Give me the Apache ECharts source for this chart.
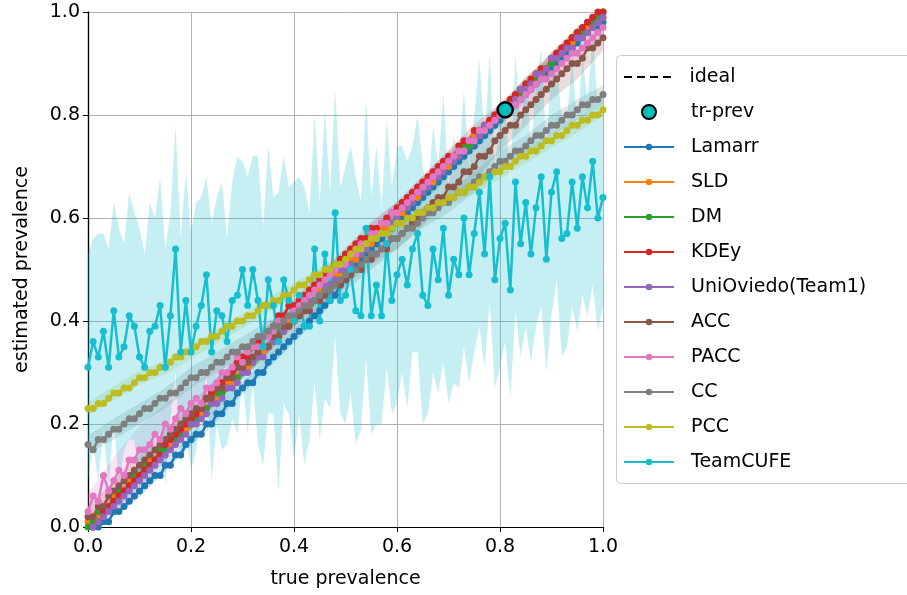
<!DOCTYPE html>
<html><head><meta charset="utf-8">
<script src="https://cdn.jsdelivr.net/npm/echarts@6/dist/echarts.min.js"></script>
<style>html,body{margin:0;padding:0;background:#fff}#c{width:907px;height:595px}</style>
</head><body><div id="c"></div><script>
// true prevalence grid
const xs = [0.00,0.01,0.02,0.03,0.04,0.05,0.06,0.07,0.08,0.09,0.10,
0.11,0.12,0.13,0.14,0.15,0.16,0.17,0.18,0.19,0.20,
0.21,0.22,0.23,0.24,0.25,0.26,0.27,0.28,0.29,0.30,
0.31,0.32,0.33,0.34,0.35,0.36,0.37,0.38,0.39,0.40,
0.41,0.42,0.43,0.44,0.45,0.46,0.47,0.48,0.49,0.50,
0.51,0.52,0.53,0.54,0.55,0.56,0.57,0.58,0.59,0.60,
0.61,0.62,0.63,0.64,0.65,0.66,0.67,0.68,0.69,0.70,
0.71,0.72,0.73,0.74,0.75,0.76,0.77,0.78,0.79,0.80,
0.81,0.82,0.83,0.84,0.85,0.86,0.87,0.88,0.89,0.90,
0.91,0.92,0.93,0.94,0.95,0.96,0.97,0.98,0.99,1.00];
// x positions where std bands of the narrow methods are sampled
const bandX = [0.00,0.05,0.10,0.15,0.20,0.25,0.30,0.35,0.40,0.45,0.50,0.55,0.60,0.65,0.70,0.75,0.80,0.85,0.90,0.95,1.00];

const lamarr = [-0.01,0.00,0.00,0.01,0.01,0.03,0.03,0.04,0.05,0.06,0.07,
0.08,0.09,0.10,0.10,0.12,0.12,0.14,0.14,0.16,0.17,
0.18,0.18,0.20,0.20,0.22,0.22,0.24,0.24,0.26,0.27,
0.28,0.28,0.30,0.30,0.32,0.33,0.34,0.35,0.36,0.37,
0.38,0.39,0.40,0.41,0.42,0.43,0.44,0.45,0.47,0.48,
0.49,0.51,0.52,0.53,0.54,0.55,0.56,0.57,0.58,0.59,
0.60,0.61,0.62,0.63,0.64,0.65,0.66,0.67,0.68,0.69,
0.70,0.71,0.72,0.73,0.74,0.75,0.76,0.77,0.78,0.79,
0.80,0.81,0.82,0.83,0.84,0.85,0.86,0.87,0.88,0.89,
0.90,0.91,0.92,0.93,0.94,0.95,0.96,0.97,0.97,0.98];
const sld = [0.01,0.02,0.02,0.04,0.04,0.06,0.06,0.07,0.09,0.09,0.10,
0.11,0.13,0.13,0.14,0.16,0.16,0.17,0.19,0.19,0.20,
0.22,0.22,0.23,0.25,0.25,0.26,0.28,0.28,0.29,0.31,
0.31,0.32,0.34,0.34,0.35,0.37,0.37,0.38,0.40,0.40,
0.41,0.43,0.43,0.44,0.46,0.46,0.47,0.49,0.49,0.50,
0.52,0.52,0.53,0.55,0.55,0.56,0.58,0.58,0.59,0.61,
0.61,0.62,0.64,0.64,0.65,0.67,0.67,0.68,0.70,0.70,
0.71,0.73,0.73,0.74,0.76,0.76,0.77,0.79,0.79,0.80,
0.82,0.82,0.83,0.85,0.85,0.86,0.88,0.88,0.89,0.91,
0.91,0.92,0.93,0.94,0.95,0.96,0.97,0.97,0.98,0.99];
const dm = [0.00,0.01,0.03,0.03,0.04,0.05,0.07,0.07,0.08,0.10,0.10,
0.12,0.12,0.13,0.15,0.15,0.17,0.17,0.18,0.20,0.20,
0.21,0.23,0.23,0.24,0.26,0.26,0.27,0.29,0.29,0.30,
0.32,0.32,0.33,0.35,0.35,0.36,0.38,0.38,0.39,0.41,
0.41,0.42,0.44,0.44,0.45,0.47,0.47,0.48,0.50,0.50,
0.51,0.53,0.53,0.54,0.56,0.56,0.57,0.59,0.59,0.60,
0.62,0.62,0.63,0.65,0.65,0.66,0.68,0.68,0.69,0.71,
0.71,0.72,0.74,0.74,0.75,0.77,0.77,0.78,0.80,0.80,
0.81,0.83,0.83,0.84,0.86,0.86,0.87,0.89,0.89,0.90,
0.92,0.93,0.93,0.95,0.96,0.96,0.98,0.98,0.99,1.00];
const kdey = [-0.01,0.00,0.01,0.03,0.04,0.05,0.06,0.07,0.08,0.09,0.10,
0.11,0.12,0.13,0.14,0.16,0.17,0.18,0.19,0.20,0.21,
0.22,0.23,0.25,0.26,0.27,0.28,0.29,0.30,0.32,0.33,
0.33,0.35,0.36,0.37,0.38,0.39,0.41,0.41,0.43,0.43,
0.44,0.45,0.46,0.47,0.48,0.49,0.50,0.51,0.52,0.53,
0.54,0.55,0.56,0.56,0.58,0.58,0.59,0.60,0.61,0.62,
0.63,0.64,0.65,0.66,0.67,0.68,0.69,0.70,0.71,0.72,
0.72,0.74,0.75,0.75,0.77,0.77,0.78,0.79,0.80,0.81,
0.82,0.83,0.84,0.85,0.86,0.87,0.88,0.89,0.89,0.91,
0.92,0.93,0.94,0.95,0.96,0.97,0.98,0.99,1.00,1.00];
const unioviedo = [-0.01,0.00,0.01,0.02,0.03,0.04,0.05,0.06,0.07,0.08,0.09,
0.10,0.11,0.12,0.13,0.14,0.15,0.16,0.17,0.18,0.20,
0.20,0.21,0.22,0.24,0.24,0.25,0.27,0.27,0.28,0.30,
0.30,0.32,0.33,0.33,0.35,0.36,0.37,0.38,0.39,0.41,
0.41,0.42,0.44,0.44,0.45,0.47,0.47,0.48,0.50,0.50,
0.51,0.53,0.53,0.54,0.56,0.56,0.57,0.59,0.59,0.60,
0.62,0.62,0.63,0.65,0.65,0.66,0.68,0.68,0.69,0.71,
0.71,0.72,0.73,0.75,0.75,0.76,0.78,0.78,0.79,0.81,
0.81,0.82,0.83,0.85,0.85,0.86,0.88,0.88,0.89,0.91,
0.91,0.92,0.93,0.93,0.95,0.95,0.96,0.97,0.98,0.99];
const acc = [0.02,0.02,0.04,0.04,0.06,0.07,0.08,0.09,0.10,0.11,0.12,
0.13,0.14,0.15,0.16,0.17,0.18,0.19,0.20,0.21,0.22,
0.23,0.23,0.25,0.25,0.27,0.27,0.29,0.29,0.31,0.31,
0.32,0.33,0.34,0.35,0.35,0.37,0.37,0.39,0.39,0.40,
0.41,0.42,0.42,0.44,0.44,0.45,0.46,0.47,0.47,0.48,
0.49,0.50,0.50,0.52,0.52,0.53,0.54,0.54,0.56,0.56,
0.57,0.58,0.59,0.60,0.61,0.62,0.63,0.64,0.64,0.66,
0.66,0.67,0.69,0.69,0.70,0.72,0.72,0.73,0.75,0.76,
0.77,0.78,0.78,0.80,0.81,0.82,0.83,0.84,0.85,0.86,
0.87,0.88,0.89,0.90,0.90,0.91,0.93,0.93,0.94,0.95];
const pacc = [0.03,0.06,0.05,0.10,0.07,0.09,0.11,0.10,0.13,0.13,0.15,
0.15,0.16,0.18,0.17,0.20,0.19,0.21,0.23,0.22,0.24,
0.25,0.24,0.27,0.27,0.28,0.30,0.30,0.31,0.33,0.32,
0.34,0.35,0.35,0.37,0.37,0.38,0.40,0.40,0.41,0.42,
0.43,0.44,0.45,0.46,0.47,0.48,0.49,0.50,0.51,0.51,
0.53,0.53,0.55,0.55,0.57,0.57,0.59,0.59,0.61,0.61,
0.62,0.63,0.64,0.65,0.66,0.67,0.68,0.69,0.70,0.71,
0.72,0.73,0.73,0.75,0.75,0.77,0.77,0.78,0.79,0.80,
0.81,0.81,0.82,0.83,0.84,0.85,0.86,0.87,0.87,0.88,
0.89,0.90,0.91,0.92,0.92,0.93,0.94,0.95,0.96,0.97];
const cc = [0.16,0.15,0.17,0.17,0.18,0.19,0.19,0.20,0.21,0.21,0.22,
0.23,0.23,0.24,0.25,0.25,0.26,0.26,0.27,0.28,0.29,
0.29,0.30,0.30,0.31,0.32,0.32,0.33,0.34,0.34,0.35,
0.35,0.36,0.37,0.37,0.38,0.39,0.39,0.40,0.41,0.41,
0.42,0.43,0.43,0.44,0.45,0.46,0.46,0.47,0.48,0.49,
0.50,0.50,0.51,0.52,0.53,0.53,0.54,0.55,0.56,0.56,
0.57,0.58,0.58,0.59,0.60,0.61,0.61,0.62,0.63,0.63,
0.64,0.65,0.65,0.66,0.67,0.68,0.68,0.69,0.70,0.71,
0.71,0.72,0.73,0.73,0.74,0.75,0.76,0.76,0.77,0.78,
0.78,0.79,0.80,0.80,0.81,0.82,0.82,0.83,0.83,0.84];
const pcc = [0.23,0.23,0.24,0.24,0.25,0.26,0.26,0.27,0.27,0.28,0.29,
0.29,0.30,0.30,0.31,0.31,0.32,0.33,0.33,0.34,0.34,
0.35,0.36,0.36,0.37,0.37,0.38,0.39,0.39,0.40,0.40,
0.41,0.41,0.42,0.43,0.43,0.44,0.44,0.45,0.45,0.46,
0.47,0.47,0.48,0.49,0.49,0.50,0.50,0.51,0.51,0.52,
0.53,0.54,0.54,0.55,0.56,0.56,0.57,0.57,0.58,0.59,
0.59,0.60,0.60,0.61,0.61,0.62,0.62,0.63,0.63,0.64,
0.64,0.65,0.65,0.66,0.66,0.67,0.68,0.68,0.69,0.69,
0.70,0.70,0.71,0.72,0.72,0.73,0.73,0.74,0.75,0.75,
0.76,0.76,0.77,0.78,0.78,0.79,0.79,0.80,0.80,0.81];
const teamcufe = [0.31,0.36,0.33,0.38,0.31,0.42,0.33,0.35,0.41,0.39,0.33,
0.31,0.38,0.39,0.43,0.31,0.41,0.54,0.34,0.44,0.34,
0.39,0.43,0.49,0.34,0.42,0.41,0.36,0.44,0.45,0.50,
0.43,0.50,0.44,0.35,0.48,0.43,0.36,0.48,0.44,0.40,
0.45,0.39,0.39,0.54,0.40,0.53,0.44,0.61,0.44,0.45,
0.50,0.42,0.41,0.58,0.41,0.47,0.41,0.55,0.44,0.49,
0.52,0.47,0.54,0.57,0.45,0.43,0.54,0.48,0.58,0.45,
0.52,0.49,0.60,0.49,0.57,0.65,0.53,0.68,0.48,0.56,
0.59,0.46,0.67,0.55,0.63,0.53,0.62,0.68,0.52,0.65,
0.69,0.56,0.57,0.67,0.58,0.68,0.62,0.71,0.60,0.64];
const teamcufeStd = [0.22,0.20,0.24,0.19,0.23,0.21,0.25,0.20,0.24,0.22,0.25,
0.22,0.25,0.21,0.25,0.23,0.20,0.24,0.22,0.25,0.23,
0.24,0.21,0.19,0.25,0.22,0.26,0.20,0.23,0.27,0.21,
0.25,0.22,0.28,0.23,0.26,0.21,0.29,0.24,0.22,0.27,
0.23,0.27,0.22,0.26,0.23,0.28,0.21,0.24,0.22,0.25,
0.24,0.26,0.22,0.25,0.23,0.27,0.21,0.24,0.22,0.25,
0.22,0.24,0.20,0.23,0.25,0.21,0.24,0.22,0.26,0.21,
0.24,0.22,0.25,0.21,0.23,0.26,0.22,0.24,0.21,0.25,
0.23,0.21,0.25,0.22,0.24,0.21,0.23,0.25,0.22,0.24,
0.21,0.23,0.22,0.24,0.20,0.23,0.21,0.24,0.22,0.21];
// std of the narrow methods, sampled at bandX
const lamarrStd = [0.008,0.01,0.012,0.012,0.012,0.015,0.012,0.012,0.012,0.012,0.012,0.012,0.012,0.01,0.01,0.01,0.01,0.01,0.008,0.008,0.006];
const sldStd = [0.01,0.012,0.012,0.012,0.012,0.012,0.012,0.012,0.012,0.012,0.012,0.012,0.012,0.012,0.012,0.012,0.012,0.012,0.01,0.01,0.008];
const dmStd = [0.01,0.012,0.012,0.012,0.012,0.012,0.012,0.012,0.012,0.012,0.012,0.012,0.012,0.012,0.015,0.015,0.015,0.015,0.012,0.012,0.008];
const kdeyStd = [0.008,0.01,0.012,0.012,0.012,0.012,0.012,0.012,0.012,0.012,0.012,0.012,0.012,0.012,0.012,0.012,0.012,0.012,0.012,0.01,0.008];
const unioviedoStd = [0.01,0.012,0.012,0.012,0.012,0.012,0.012,0.012,0.012,0.012,0.012,0.012,0.012,0.012,0.012,0.012,0.012,0.012,0.012,0.01,0.008];
const accStd = [0.02,0.02,0.02,0.02,0.02,0.02,0.02,0.02,0.02,0.02,0.02,0.02,0.02,0.025,0.025,0.03,0.03,0.032,0.03,0.03,0.025];
const paccStd = [0.035,0.045,0.045,0.04,0.035,0.03,0.025,0.02,0.02,0.02,0.02,0.02,0.02,0.02,0.02,0.02,0.02,0.02,0.018,0.018,0.015];
const ccStd = [0.018,0.02,0.02,0.02,0.02,0.02,0.02,0.02,0.02,0.02,0.02,0.02,0.02,0.02,0.02,0.02,0.02,0.02,0.02,0.02,0.018];
const pccStd = [0.012,0.014,0.014,0.014,0.014,0.014,0.014,0.014,0.014,0.014,0.014,0.014,0.014,0.014,0.014,0.014,0.014,0.014,0.014,0.014,0.012];

const idealX = [0, 1];
const idealY = [0, 1];
const trPrev = [0.81, 0.81];

const names = ['Lamarr','SLD','DM','KDEy','UniOviedo(Team1)','ACC','PACC','CC','PCC','TeamCUFE'];
const colors = ['#1f77b4','#ff7f0e','#2ca02c','#d62728','#9467bd','#8c564b','#e377c2','#7f7f7f','#bcbd22','#17becf'];
const means = [lamarr,sld,dm,kdey,unioviedo,acc,pacc,cc,pcc,teamcufe];
const stds = [lamarrStd,sldStd,dmStd,kdeyStd,unioviedoStd,accStd,paccStd,ccStd,pccStd,teamcufeStd];
const xTicks = ['0.0','0.2','0.4','0.6','0.8','1.0'];

function hexA(h, a) {
  const r = parseInt(h.slice(1,3),16), g = parseInt(h.slice(3,5),16), b = parseInt(h.slice(5,7),16);
  return 'rgba(' + r + ',' + g + ',' + b + ',' + a + ')';
}

function bandSeries(k) {
  const m = means[k], s = stds[k];
  let bx, lo, hi;
  if (s.length === xs.length) {
    bx = xs; lo = m.map((v,i) => v - s[i]); hi = m.map((v,i) => v + s[i]);
  } else {
    bx = bandX;
    lo = bandX.map((x,i) => m[i*5] - s[i]);
    hi = bandX.map((x,i) => m[i*5] + s[i]);
  }
  return {
    type: 'custom', name: names[k] + ' band', silent: true, clip: true, z: 1,
    data: [[0.5, 0.5]],
    renderItem: function (params, api) {
      const cs = params.coordSys;
      const clampY = p => [p[0], Math.max(cs.y, Math.min(cs.y + cs.height, p[1]))];
      const pts = [];
      for (let i = 0; i < bx.length; i++) pts.push(clampY(api.coord([bx[i], hi[i]])));
      for (let i = bx.length - 1; i >= 0; i--) pts.push(clampY(api.coord([bx[i], lo[i]])));
      return { type: 'polygon', shape: { points: pts }, style: { fill: hexA(colors[k], k === 9 ? 0.25 : 0.2) } };
    }
  };
}

const FONT = 'DejaVu Sans';
const series = [];
for (let k = 0; k < names.length; k++) series.push(bandSeries(k));
series.push({
  type: 'line', name: 'ideal', data: idealX.map((x,i) => [x, idealY[i]]),
  symbol: 'none', z: 2, lineStyle: { color: '#000', width: 1.5, type: [5, 3] }, itemStyle: { color: '#000' }
});
for (let k = 0; k < names.length; k++) {
  series.push({
    type: 'line', name: names[k], data: xs.map((x,i) => [x, means[k][i]]),
    symbol: 'circle', symbolSize: 7, showAllSymbol: true, z: 3, clip: true,
    color: colors[k],
    lineStyle: { color: colors[k], width: 2.5 }, itemStyle: { color: colors[k] },
    emphasis: { disabled: true }
  });
}
series.push({
  type: 'scatter', name: 'tr-prev', data: [trPrev], symbolSize: 15, z: 10,
  itemStyle: { color: '#00bfbf', borderColor: '#000', borderWidth: 2.5, opacity: 1 }
});

const legendText = { fontSize: 19, color: '#000', fontFamily: FONT, lineHeight: 22, padding: [0, 0, 0, 12] };
const chart = echarts.init(document.getElementById('c'));
chart.setOption({
  animation: false,
  backgroundColor: '#fff',
  textStyle: { fontFamily: FONT },
  grid: { left: 88, top: 12, width: 515, height: 515, containLabel: false },
  xAxis: [{
    type: 'value', min: 0, max: 1, interval: 0.2,
    name: 'true prevalence', nameLocation: 'middle', nameGap: 43,
    nameTextStyle: { fontSize: 19, color: '#000', fontFamily: FONT },
    axisLine: { show: true, onZero: false, lineStyle: { color: '#000', width: 1.2 } },
    axisTick: { show: true, length: 5, lineStyle: { color: '#000' } },
    axisLabel: { fontSize: 19, color: '#000', margin: 11, fontFamily: FONT, formatter: v => xTicks[Math.round(v / 0.2)] },
    splitLine: { show: true, lineStyle: { color: '#b0b0b0', width: 1 } }
  }, {
    type: 'value', min: 0, max: 1, position: 'top',
    axisLine: { show: true, lineStyle: { color: '#000', width: 1.2 } },
    axisTick: { show: false }, axisLabel: { show: false }, splitLine: { show: false }
  }],
  yAxis: [{
    type: 'value', min: 0, max: 1, interval: 0.2,
    name: 'estimated prevalence', nameLocation: 'middle', nameGap: 56, nameRotate: 90,
    nameTextStyle: { fontSize: 19, color: '#000', fontFamily: FONT },
    axisLine: { show: true, onZero: false, lineStyle: { color: '#000', width: 1.2 } },
    axisTick: { show: true, length: 5, lineStyle: { color: '#000' } },
    axisLabel: { fontSize: 19, color: '#000', margin: 8, fontFamily: FONT, formatter: v => xTicks[Math.round(v / 0.2)] },
    splitLine: { show: true, lineStyle: { color: '#b0b0b0', width: 1 } }
  }, {
    type: 'value', min: 0, max: 1, position: 'right',
    axisLine: { show: true, lineStyle: { color: '#000', width: 1.2 } },
    axisTick: { show: false }, axisLabel: { show: false }, splitLine: { show: false }
  }],
  legend: [{
    left: 624, top: 66, orient: 'vertical', padding: 0,
    itemWidth: 50, itemHeight: 2, itemGap: 13,
    data: [{ name: 'ideal', icon: 'path://M0,0h8v2h-8zM13,0h8v2h-8zM26,0h8v2h-8zM39,0h8v2h-8z', itemStyle: { color: '#000' } }],
    textStyle: legendText, selectedMode: false
  }, {
    left: 641, top: 101, orient: 'vertical', padding: 0,
    itemWidth: 50, itemHeight: 14, itemGap: 13,
    data: ['tr-prev'],
    textStyle: legendText, selectedMode: false
  }, {
    left: 623, top: 136, orient: 'vertical', padding: 0,
    itemWidth: 50, itemHeight: 8, itemGap: 13,
    data: names,
    textStyle: legendText, selectedMode: false
  }],
  graphic: [{
    type: 'rect', left: 616, top: 55, z: -1,
    shape: { width: 300, height: 428, r: 4 },
    style: { fill: '#fff', stroke: '#cccccc', lineWidth: 1 }
  }],
  series: series
});
</script></body></html>
